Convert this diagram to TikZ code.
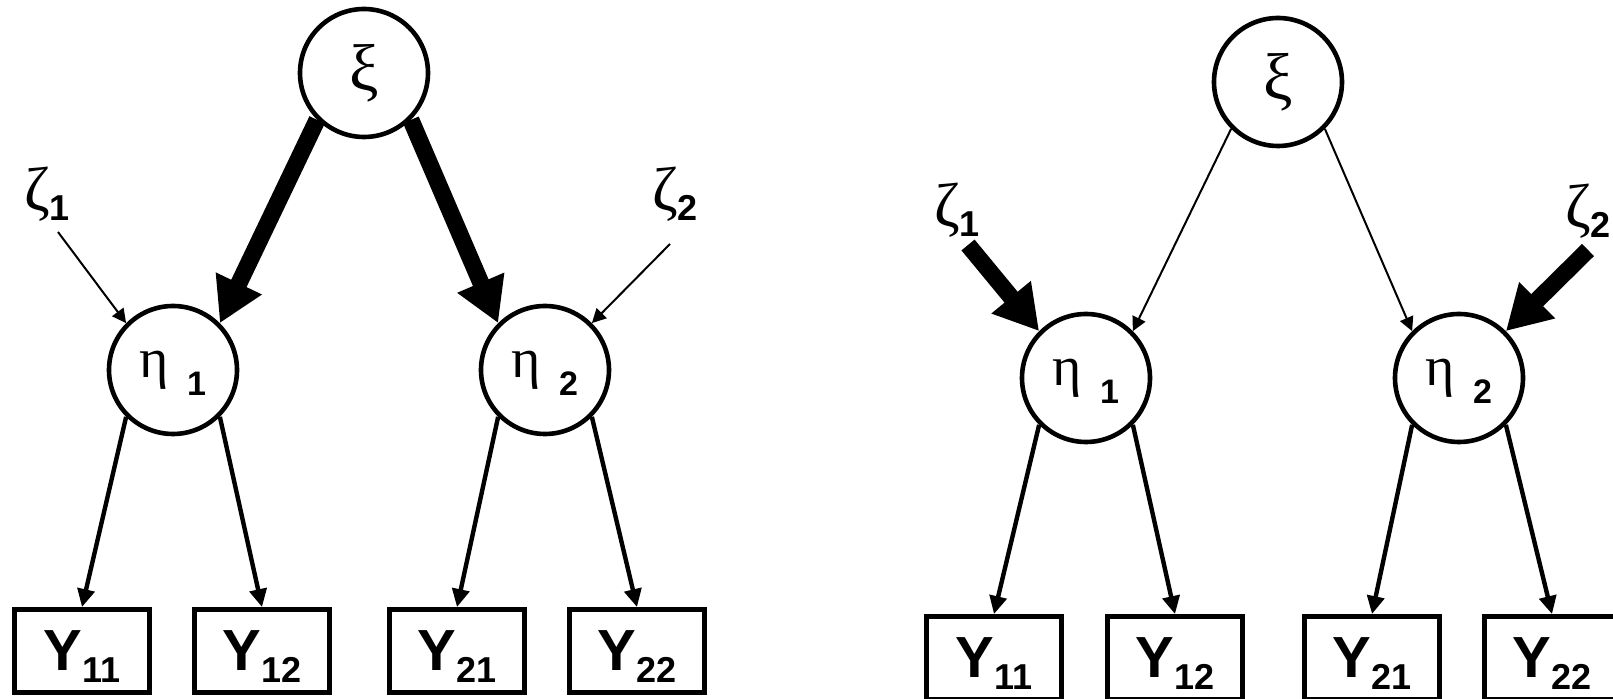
\documentclass[tikz,border=0pt]{standalone}
\usepackage{fontspec}
\setmainfont{Liberation Sans}
\newfontfamily\greekfont{Liberation Serif}
\usetikzlibrary{arrows.meta}

% labels of the latent, observed and error terms
\newcommand{\xilab}{\fontsize{33}{33}\selectfont\greekfont ξ}
\newcommand{\etalab}[1]{\raisebox{-4pt}[0pt][0pt]{\fontsize{28}{28}\selectfont\greekfont η\hspace{9pt}\raisebox{-9pt}{\fontsize{17}{17}\selectfont\normalfont\bfseries #1}}}
\newcommand{\ylab}[1]{\raisebox{-10pt}[0pt][0pt]{\fontsize{29}{29}\selectfont\bfseries Y\raisebox{-6pt}{\fontsize{18}{18}\selectfont #1}}}
\newcommand{\zetalab}[1]{{\fontsize{31}{31}\selectfont\greekfont ζ}\raisebox{-5pt}{\fontsize{18}{18}\selectfont\bfseries #1}}

\begin{document}
\begin{tikzpicture}[x=0.5pt, y=-0.5pt]
    % Styles
    \tikzstyle{latent} = [draw, circle, line width=2.3pt, minimum size=64pt, inner sep=0pt]
    \tikzstyle{observed} = [draw, rectangle, line width=2.4pt, minimum width=67.5pt, minimum height=41.5pt, inner sep=0pt]
    \tikzstyle{errlabel} = [inner sep=0pt, outer sep=0pt, anchor=south]
    \tikzstyle{thinarrow} = [draw, -{Triangle[length=7pt, width=7pt]}, line width=1pt]
    \tikzstyle{midarrow} = [draw, -{Triangle[length=9pt, width=8.5pt]}, line width=2.2pt]
    \tikzstyle{thickarrow} = [draw, -{Triangle[length=22pt, width=24pt]}, line width=8.5pt]

    \useasboundingbox (0,0) rectangle (1613,699);

    % Left panel
    \node[latent] (xiL) at (364,73) {\xilab};
    \node[latent] (etaA) at (173,370) {\etalab{1}};
    \node[latent] (etaB) at (545,370) {\etalab{2}};
    \node[errlabel] (lzA) at (47,221) {\zetalab{1}};
    \node[errlabel] (lzB) at (675,221) {\zetalab{2}};
    \node[observed] (yA1) at (82,651) {\ylab{11}};
    \node[observed] (yA2) at (262,651) {\ylab{12}};
    \node[observed] (yB1) at (457,651) {\ylab{21}};
    \node[observed] (yB2) at (637,651) {\ylab{22}};

    % Right panel
    \node[latent] (xiR) at (1278,82) {\xilab};
    \node[latent] (etaC) at (1086,378) {\etalab{1}};
    \node[latent] (etaD) at (1459,378) {\etalab{2}};
    \node[errlabel] (rzA) at (957,237) {\zetalab{1}};
    \node[errlabel] (rzB) at (1588,238) {\zetalab{2}};
    \node[observed] (yC1) at (994,658) {\ylab{11}};
    \node[observed] (yC2) at (1175,658) {\ylab{12}};
    \node[observed] (yD1) at (1372,658) {\ylab{21}};
    \node[observed] (yD2) at (1552,658) {\ylab{22}};

    % Arrows, left
    \draw[thickarrow] (xiL.south west) -- (etaA.north east);
    \draw[thickarrow] (xiL.south east) -- (etaB.north west);
    \draw[thinarrow] ([xshift=5.5pt, yshift=-5.5pt]lzA.south) -- (etaA.north west);
    \draw[thinarrow] ([xshift=-2.5pt, yshift=-11.5pt]lzB.south) -- (etaB.north east);
    \draw[midarrow] (etaA.south west) -- (yA1.north);
    \draw[midarrow] (etaA.south east) -- (yA2.north);
    \draw[midarrow] (etaB.south west) -- (yB1.north);
    \draw[midarrow] (etaB.south east) -- (yB2.north);

    % Arrows, right
    \draw[thinarrow] (xiR.south west) -- (etaC.north east);
    \draw[thinarrow] (xiR.south east) -- (etaD.north west);
    \draw[thickarrow] ([xshift=5.5pt, yshift=-4pt]rzA.south) -- (etaC.north west);
    \draw[thickarrow] ([yshift=-6pt]rzB.south) -- (etaD.north east);
    \draw[midarrow] (etaC.south west) -- (yC1.north);
    \draw[midarrow] (etaC.south east) -- (yC2.north);
    \draw[midarrow] (etaD.south west) -- (yD1.north);
    \draw[midarrow] (etaD.south east) -- (yD2.north);
\end{tikzpicture}
\end{document}
